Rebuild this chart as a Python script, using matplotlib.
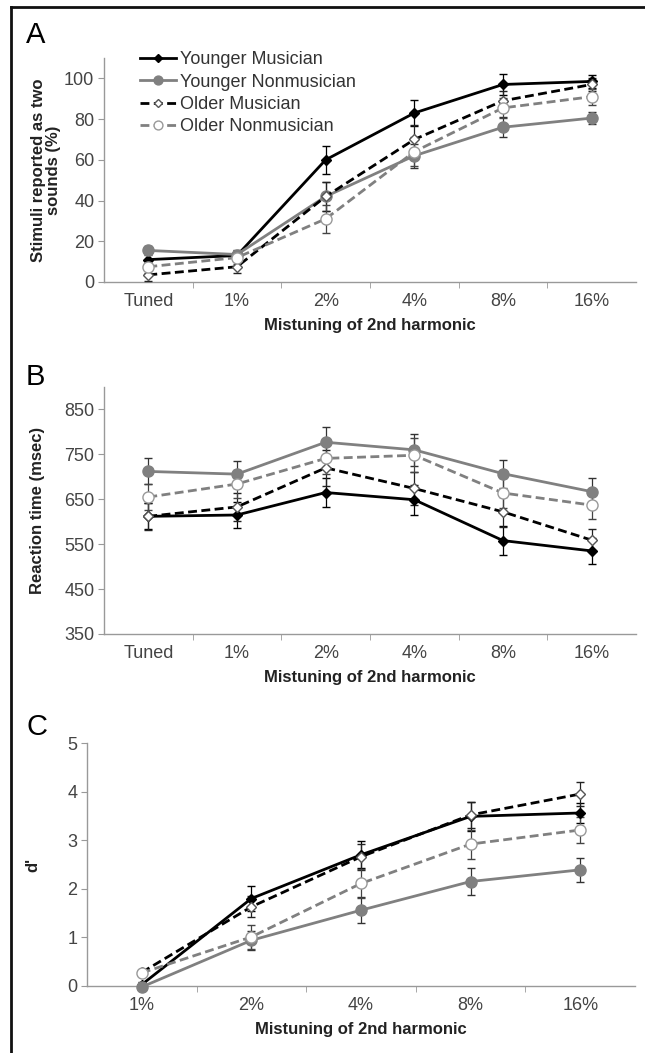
import matplotlib
matplotlib.use("Agg")
import matplotlib.pyplot as plt
from matplotlib.lines import Line2D
from matplotlib import font_manager

# pick a narrow Arial-like face if available
names = {f.name for f in font_manager.fontManager.ttflist}
NARROW = "Liberation Sans Narrow" if "Liberation Sans Narrow" in names else "Liberation Sans"
plt.rcParams["font.family"] = ["Liberation Sans", "DejaVu Sans"]

# ---- data ----
cats_ab = ["Tuned", "1%", "2%", "4%", "8%", "16%"]
cats_c = ["1%", "2%", "4%", "8%", "16%"]
groups = ["Younger Musician", "Younger Nonmusician", "Older Musician", "Older Nonmusician"]

# A: stimuli reported as two sounds (%)
a_vals = {
    "Younger Musician": [11, 13, 60, 83, 97, 98.5],
    "Younger Nonmusician": [15.5, 13.5, 42, 62, 76, 80.5],
    "Older Musician": [3.5, 7.5, 42, 70, 89, 97],
    "Older Nonmusician": [7.5, 12, 31, 64, 85.5, 91],
}
a_err = {
    "Younger Musician": [3, 2, 7, 6.5, 5, 3],
    "Younger Nonmusician": [2, 2, 7, 6, 5, 3],
    "Older Musician": [3, 3, 7, 7, 5, 3],
    "Older Nonmusician": [3, 3, 7, 7, 5, 4],
}

# B: reaction time (msec)
b_vals = {
    "Younger Musician": [612, 615, 665, 649, 558, 535],
    "Younger Nonmusician": [712, 706, 777, 760, 707, 667],
    "Older Musician": [612, 633, 720, 674, 622, 559],
    "Older Nonmusician": [655, 684, 741, 748, 664, 637],
}
b_err = {
    "Younger Musician": [29, 30, 33, 33, 32, 29],
    "Younger Nonmusician": [29, 30, 33, 35, 31, 30],
    "Older Musician": [30, 32, 40, 37, 33, 25],
    "Older Nonmusician": [30, 32, 35, 38, 33, 30],
}

# C: d'
c_vals = {
    "Younger Musician": [0.03, 1.8, 2.7, 3.49, 3.56],
    "Younger Nonmusician": [-0.02, 0.94, 1.56, 2.15, 2.39],
    "Older Musician": [0.28, 1.63, 2.66, 3.52, 3.95],
    "Older Nonmusician": [0.27, 1.01, 2.11, 2.92, 3.21],
}
c_err = {
    "Younger Musician": [0.05, 0.25, 0.28, 0.3, 0.2],
    "Younger Nonmusician": [0.05, 0.2, 0.27, 0.27, 0.25],
    "Older Musician": [0.05, 0.22, 0.27, 0.27, 0.25],
    "Older Nonmusician": [0.05, 0.25, 0.3, 0.3, 0.26],
}

GRAY = "#808080"
style = {
    "Younger Musician": dict(color="black", ls="-", marker="D", ms=5, mfc="black", mec="black"),
    "Younger Nonmusician": dict(color=GRAY, ls="-", marker="o", ms=8, mfc=GRAY, mec=GRAY),
    "Older Musician": dict(color="black", ls=(0, (3.2, 1.6)), marker="D", ms=5.5, mfc="white", mec="#555555"),
    "Older Nonmusician": dict(color=GRAY, ls=(0, (3.2, 1.6)), marker="o", ms=8, mfc="white", mec="#999999"),
}
ecol = {"Younger Musician": "black", "Younger Nonmusician": "#333333",
        "Older Musician": "#222222", "Older Nonmusician": "#444444"}

W, H = 645, 1053
fig = plt.figure(figsize=(W / 100, H / 100), dpi=100)


def box(l, t, r, b):
    return [l / W, 1 - b / H, (r - l) / W, (b - t) / H]


def panel(rect, cats, vals, errs, ylim, yticks, ylabel, ylabel_px):
    ax = fig.add_axes(rect)
    x = list(range(len(cats)))
    for g in groups:
        s = style[g]
        ax.errorbar(x, vals[g], yerr=errs[g], color=s["color"], ls=s["ls"], lw=2,
                    marker=s["marker"], ms=s["ms"], mfc=s["mfc"], mec=s["mec"], mew=1,
                    ecolor=ecol[g], elinewidth=0.9, capsize=3, capthick=0.9,
                    label=g, clip_on=False, zorder=3)
    ax.set_xlim(-0.5, len(cats) - 0.5)
    ax.set_ylim(*ylim)
    ax.set_yticks(yticks)
    ax.set_xticks(x)
    ax.set_xticklabels(cats)
    ax.set_xticks([i + 0.5 for i in range(len(cats) - 1)], minor=True)
    ax.tick_params(axis="x", which="major", length=0, pad=8)
    ax.tick_params(axis="x", which="minor", length=4, direction="out", color="#999999")
    ax.tick_params(axis="y", length=4, direction="out", color="#999999", pad=3)
    for lab in ax.get_xticklabels() + ax.get_yticklabels():
        lab.set_family([NARROW, "DejaVu Sans"])
        lab.set_fontsize(13)
        lab.set_color("#444444")
    for sp in ("top", "right"):
        ax.spines[sp].set_visible(False)
    for sp in ("left", "bottom"):
        ax.spines[sp].set_color("#999999")
        ax.spines[sp].set_linewidth(1)
    ax.set_xlabel("Mistuning of 2nd harmonic", fontsize=12, fontweight="bold",
                  color="#222222", labelpad=6)
    ax.set_ylabel(ylabel, fontsize=12, fontweight="bold", color="#222222",
                  linespacing=1.0)
    # label centre given in figure pixels -> axes fraction
    ax.yaxis.set_label_coords((ylabel_px / W - rect[0]) / rect[2], 0.5)
    ax.yaxis.label.set_va("center")
    return ax


axA = panel(box(104, 58, 636, 282), cats_ab, a_vals, a_err, (0, 110),
            [0, 20, 40, 60, 80, 100], "Stimuli reported as two\nsounds (%)", 46)
axB = panel(box(104, 387, 636, 634), cats_ab, b_vals, b_err, (350, 900),
            [350, 450, 550, 650, 750, 850], "Reaction time (msec)", 37)
axC = panel(box(87, 743, 635, 986), cats_c, c_vals, c_err, (0, 5),
            [0, 1, 2, 3, 4, 5], "d'", 33)

# panel letters
for lab, y in (("A", 35), ("B", 377), ("C", 727)):
    fig.text(26 / W, 1 - y / H, lab, fontsize=21, va="center", ha="left",
             family=["Liberation Sans", "DejaVu Sans"])

# legend (panel A)
handles = []
for g in groups:
    s = style[g]
    handles.append(Line2D([], [], color=s["color"], ls=s["ls"], lw=2, marker=s["marker"],
                          ms=s["ms"] * 0.8, mfc=s["mfc"], mec=s["mec"]))
leg = fig.legend(handles, groups, loc="upper left", bbox_to_anchor=(133 / W, 1 - 44 / H),
                 frameon=False, handlelength=2.0, handletextpad=0.2, labelspacing=0.3,
                 borderaxespad=0, prop={"family": [NARROW, "DejaVu Sans"], "size": 13})
for t in leg.get_texts():
    t.set_color("#333333")

# outer frame: left and top edges
fig.add_artist(Line2D([11 / W, 11 / W], [0, 1 - 7 / H], color="#111111", lw=2))
fig.add_artist(Line2D([11 / W, 1], [1 - 7 / H, 1 - 7 / H], color="#111111", lw=2))

fig.savefig("out.png", dpi=100, facecolor="white")
